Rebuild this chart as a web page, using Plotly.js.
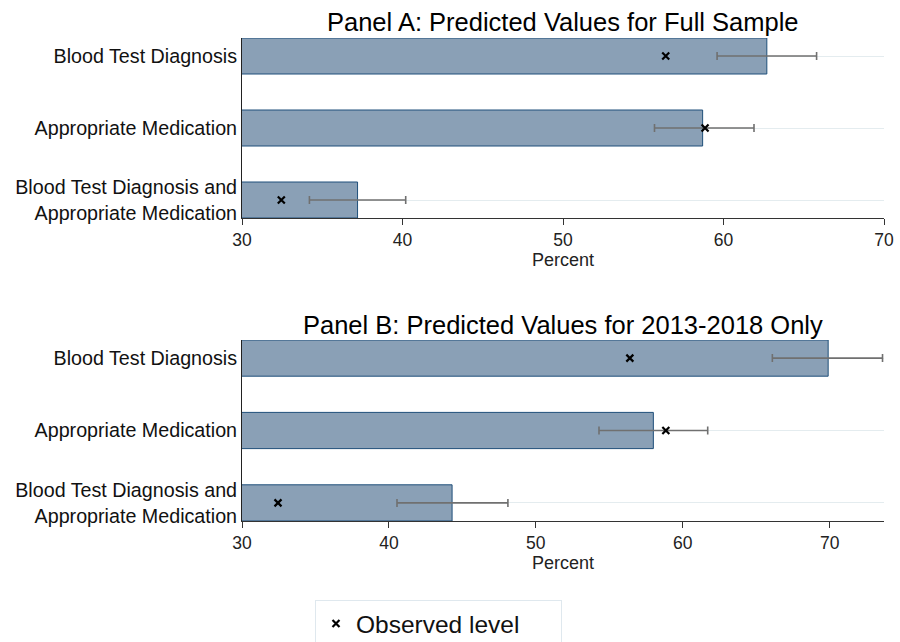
<!DOCTYPE html>
<html><head><meta charset="utf-8">
<script src="https://cdn.plot.ly/plotly-3.0.1.min.js"></script>
<style>html,body{margin:0;padding:0;background:#fff}</style>
</head><body><div id="chart" style="width:900px;height:642px"></div>
<script>
const categories = ["Blood Test Diagnosis and<br>Appropriate Medication", "Appropriate Medication", "Blood Test Diagnosis"];
const predA = [37.2, 58.7, 62.7];
const ciLowA = [34.2, 55.7, 59.6];
const ciHighA = [40.2, 61.9, 65.8];
const obsA = [32.45, 58.85, 56.4];
const predB = [44.3, 58.0, 69.9];
const ciLowB = [40.55, 54.3, 66.1];
const ciHighB = [48.1, 61.7, 73.6];
const obsB = [32.45, 58.85, 56.4];
const xTicks = [30, 40, 50, 60, 70];
const titleA = "Panel A: Predicted Values for Full Sample";
const titleB = "Panel B: Predicted Values for 2013-2018 Only";
const xTitle = "Percent";
const legendLabel = "Observed level";

const FONT = "Liberation Sans, Arial, Helvetica, sans-serif";
const barFill = "#8aa0b6";
const barLine = "#1f4f7a";
const errColor = "#707070";

function barTrace(pred, lo, hi, xa, ya) {
  return {
    type: "bar", orientation: "h", x: pred, y: categories,
    xaxis: xa, yaxis: ya, width: 0.5, showlegend: false, hoverinfo: "skip",
    marker: {color: barFill, line: {color: barLine, width: 1}},
    error_x: {type: "data", symmetric: false,
      array: hi.map((h, i) => h - pred[i]),
      arrayminus: lo.map((l, i) => pred[i] - l),
      color: errColor, thickness: 1.6, width: 4}
  };
}
function obsTrace(obs, xa, ya, show) {
  return {
    type: "scatter", mode: "markers", x: obs, y: categories,
    xaxis: xa, yaxis: ya, name: legendLabel, showlegend: show,
    marker: {symbol: "x-thin", size: 7, color: "#000", line: {color: "#000", width: 2.2}}
  };
}

const data = [
  barTrace(predA, ciLowA, ciHighA, "x", "y"),
  obsTrace(obsA, "x", "y", true),
  barTrace(predB, ciLowB, ciHighB, "x2", "y2"),
  obsTrace(obsB, "x2", "y2", false)
];

const xl = 242 / 900, xr = 884 / 900;
function xAxis(range, anchor) {
  return {
    domain: [xl, xr], anchor: anchor, range: range,
    tickvals: xTicks, ticks: "outside", ticklen: 6, tickcolor: "#333",
    showline: true, linecolor: "#333", linewidth: 1, showgrid: false, zeroline: false,
    tickfont: {family: FONT, size: 17.5, color: "#222"},
    title: {text: xTitle, font: {family: FONT, size: 18, color: "#222"}, standoff: 0}
  };
}
function yAxis(dom, anchor) {
  return {
    domain: dom, anchor: anchor, type: "category", range: [-0.25, 2.25],
    categoryorder: "array", categoryarray: categories,
    showline: true, linecolor: "#222", linewidth: 1, ticks: "",
    showgrid: true, gridcolor: "#e4ecef", gridwidth: 1,
    tickfont: {family: FONT, size: 19.7, color: "#111"}
  };
}

const layout = {
  width: 900, height: 642,
  margin: {l: 0, r: 0, t: 0, b: 0, autoexpand: false},
  paper_bgcolor: "#fff", plot_bgcolor: "#fff",
  font: {family: FONT, color: "#000"},
  xaxis: xAxis([30, 70], "y"),
  yaxis: yAxis([(642 - 218) / 642, (642 - 38) / 642], "x"),
  xaxis2: xAxis([30, 73.7], "y2"),
  yaxis2: yAxis([(642 - 521) / 642, (642 - 340) / 642], "x2"),
  showlegend: true,
  legend: {
    orientation: "h",
    x: 315 / 900, xanchor: "left", y: (642 - 600) / 642, yanchor: "top",
    bordercolor: "#dfe8ee", borderwidth: 1, bgcolor: "#fff",
    font: {family: FONT, size: 24.5, color: "#111"},
    entrywidth: 200, entrywidthmode: "pixels", itemwidth: 30
  },
  annotations: [
    {text: titleA, xref: "paper", yref: "paper", x: (xl + xr) / 2, y: (642 - 22) / 642,
     xanchor: "center", yanchor: "middle", showarrow: false,
     font: {family: FONT, size: 25.5, color: "#000"}},
    {text: titleB, xref: "paper", yref: "paper", x: (xl + xr) / 2, y: (642 - 325) / 642,
     xanchor: "center", yanchor: "middle", showarrow: false,
     font: {family: FONT, size: 25.5, color: "#000"}}
  ]
};

Plotly.newPlot("chart", data, layout, {displayModeBar: false, staticPlot: true});
</script></body></html>
